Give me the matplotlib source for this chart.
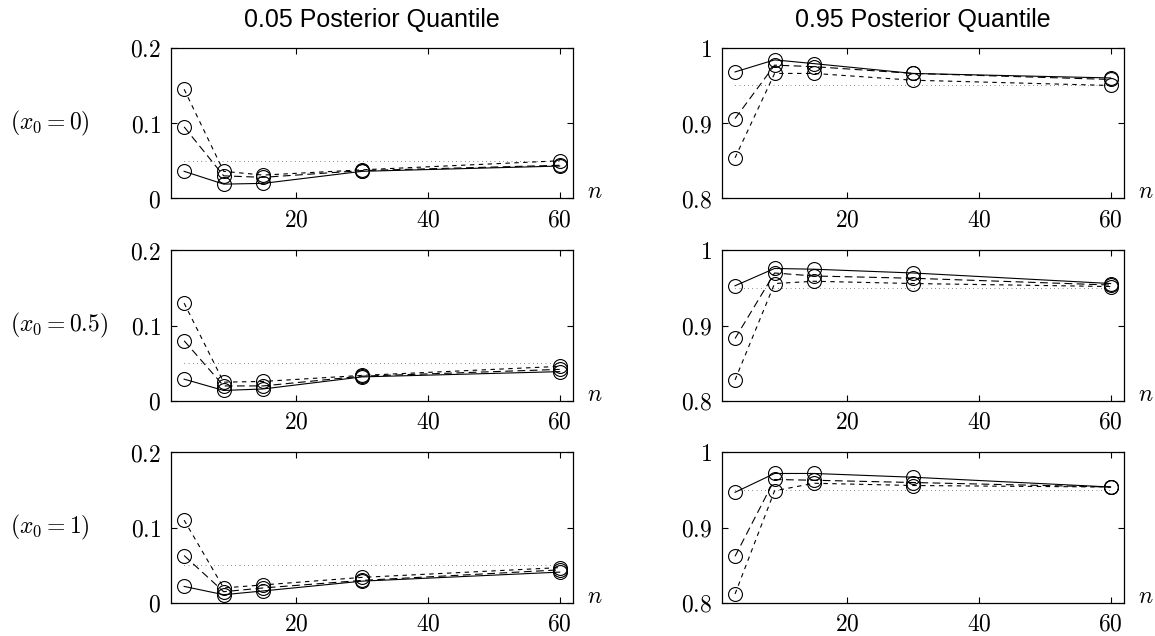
import matplotlib
matplotlib.use("Agg")
import matplotlib.pyplot as plt

plt.rcParams['mathtext.fontset'] = 'cm'
plt.rcParams['font.family'] = 'serif'
plt.rcParams['font.serif'] = ['DejaVu Serif']

##### data #####
n_vals = [3, 9, 15, 30, 60]

titles = ['0.05 Posterior Quantile', '0.95 Posterior Quantile']
row_labels = [r'$(x_\mathsf{0} = \mathsf{0})$', r'$(x_\mathsf{0} = \mathsf{0.5})$',
              r'$(x_\mathsf{0} = \mathsf{1})$']
nominal = [0.05, 0.95]

# 0.05 quantile, one list per row: solid / long dash / short dash
q05_solid = [[0.036, 0.019, 0.020, 0.036, 0.043],
             [0.029, 0.014, 0.016, 0.032, 0.039],
             [0.022, 0.011, 0.016, 0.029, 0.041]]
q05_long = [[0.095, 0.030, 0.028, 0.037, 0.044],
            [0.080, 0.020, 0.020, 0.033, 0.042],
            [0.063, 0.015, 0.020, 0.030, 0.044]]
q05_short = [[0.145, 0.036, 0.031, 0.038, 0.050],
             [0.130, 0.025, 0.026, 0.034, 0.046],
             [0.110, 0.020, 0.024, 0.034, 0.047]]

# 0.95 quantile
q95_solid = [[0.968, 0.984, 0.979, 0.966, 0.960],
             [0.953, 0.976, 0.975, 0.970, 0.956],
             [0.947, 0.972, 0.972, 0.967, 0.954]]
q95_long = [[0.906, 0.977, 0.975, 0.966, 0.958],
            [0.883, 0.970, 0.966, 0.963, 0.954],
            [0.862, 0.964, 0.963, 0.960, 0.954]]
q95_short = [[0.854, 0.966, 0.966, 0.957, 0.950],
             [0.828, 0.956, 0.959, 0.956, 0.952],
             [0.812, 0.949, 0.959, 0.956, 0.954]]

y_limits = [(0, 0.2), (0.8, 1.0)]
y_ticks = [[0, 0.1, 0.2], [0.8, 0.9, 1.0]]
y_ticklabels = [['$0$', '$0.1$', '$0.2$'], ['$0.8$', '$0.9$', '$1$']]
x_ticks = [20, 40, 60]

fig = plt.figure(figsize=(11.55, 6.36), dpi=100)

lefts = [0.148, 0.625]
bottoms = [0.688, 0.3695, 0.0519]
w, h = 0.348, 0.2368

for col in range(2):
    if col == 0:
        solid, longd, shortd = q05_solid, q05_long, q05_short
    else:
        solid, longd, shortd = q95_solid, q95_long, q95_short
    for row in range(3):
        ax = fig.add_axes([lefts[col], bottoms[row], w, h])
        mk = dict(marker='o', markersize=10, mfc='none', mec='k', mew=0.8, color='k', lw=0.8)
        ax.plot(n_vals, solid[row], linestyle='-', **mk)
        ax.plot(n_vals, longd[row], dashes=(7, 4), **mk)
        ax.plot(n_vals, shortd[row], dashes=(4, 4), **mk)
        ax.plot([n_vals[0], n_vals[-1]], [nominal[col]] * 2, color='k', lw=0.6,
                dashes=(0.6, 4.5))
        ax.set_xlim(1, 62)
        ax.set_ylim(*y_limits[col])
        ax.set_yticks(y_ticks[col])
        ax.set_yticklabels(y_ticklabels[col])
        ax.set_xticks(x_ticks)
        ax.set_xticklabels(['$%d$' % t for t in x_ticks])
        ax.tick_params(direction='in', top=True, right=True, labelsize=17,
                       length=4, width=0.8, pad=7)
        for s in ax.spines.values():
            s.set_linewidth(0.9)
        ax.text(1.035, 0.045, '$n$', transform=ax.transAxes, fontsize=17,
                ha='left', va='center')
        if row == 0:
            ax.text(0.5, 1.184, titles[col], transform=ax.transAxes, fontsize=18,
                    family='Liberation Sans', ha='center', va='center')
        if col == 0:
            fig.text(0.009, bottoms[row] + h * 0.5, row_labels[row], fontsize=17,
                     ha='left', va='center')

fig.savefig('out.png', dpi=100)
